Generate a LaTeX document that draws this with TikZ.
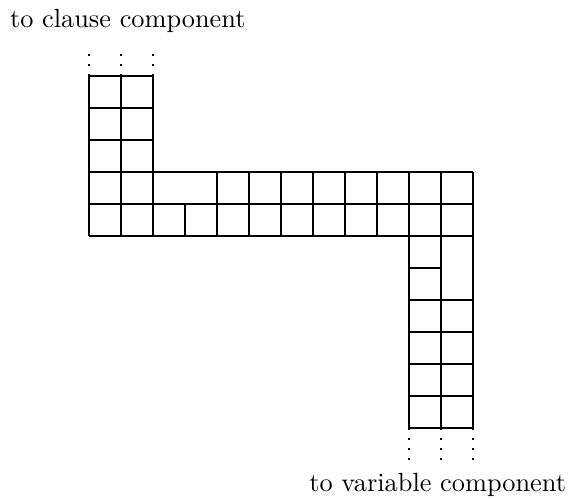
\documentclass[tikz,border=0pt]{standalone}
\begin{document}
\begin{tikzpicture}[x=0.38pt,y=-0.38pt,
  gridline/.style={line width=0.4pt,black},
  dotline/.style={line width=0.6pt,black,dash pattern=on 0.6pt off 3.2pt},
  label/.style={inner sep=0pt,font=\normalsize}]
\useasboundingbox (0,0) rectangle (573,498);
% horizontal lines
\foreach \y in {76,108,140} \draw[gridline] (89,\y) -- (153,\y);
\foreach \y in {172,204,236} \draw[gridline] (89,\y) -- (473,\y);
\draw[gridline] (409,268) -- (441,268);
\foreach \y in {300,332,364,396,428} \draw[gridline] (409,\y) -- (473,\y);
% vertical lines
\foreach \x in {89,121,153} \draw[gridline] (\x,76) -- (\x,236);
\draw[gridline] (185,204) -- (185,236);
\foreach \x in {217,249,281,313,345,377} \draw[gridline] (\x,172) -- (\x,236);
\foreach \x in {409,441,473} \draw[gridline] (\x,172) -- (\x,428);
% dotted continuations
\foreach \x in {89,121,153} \draw[dotline] (\x,76) -- (\x,48);
\foreach \x in {409,441,473} \draw[dotline] (\x,428) -- (\x,462);
% labels
\node[label,anchor=base west] (clause) at (9.5,27) {to clause component};
\node[label,anchor=base east] (variable) at (566.5,491) {to variable component};
\end{tikzpicture}
\end{document}
